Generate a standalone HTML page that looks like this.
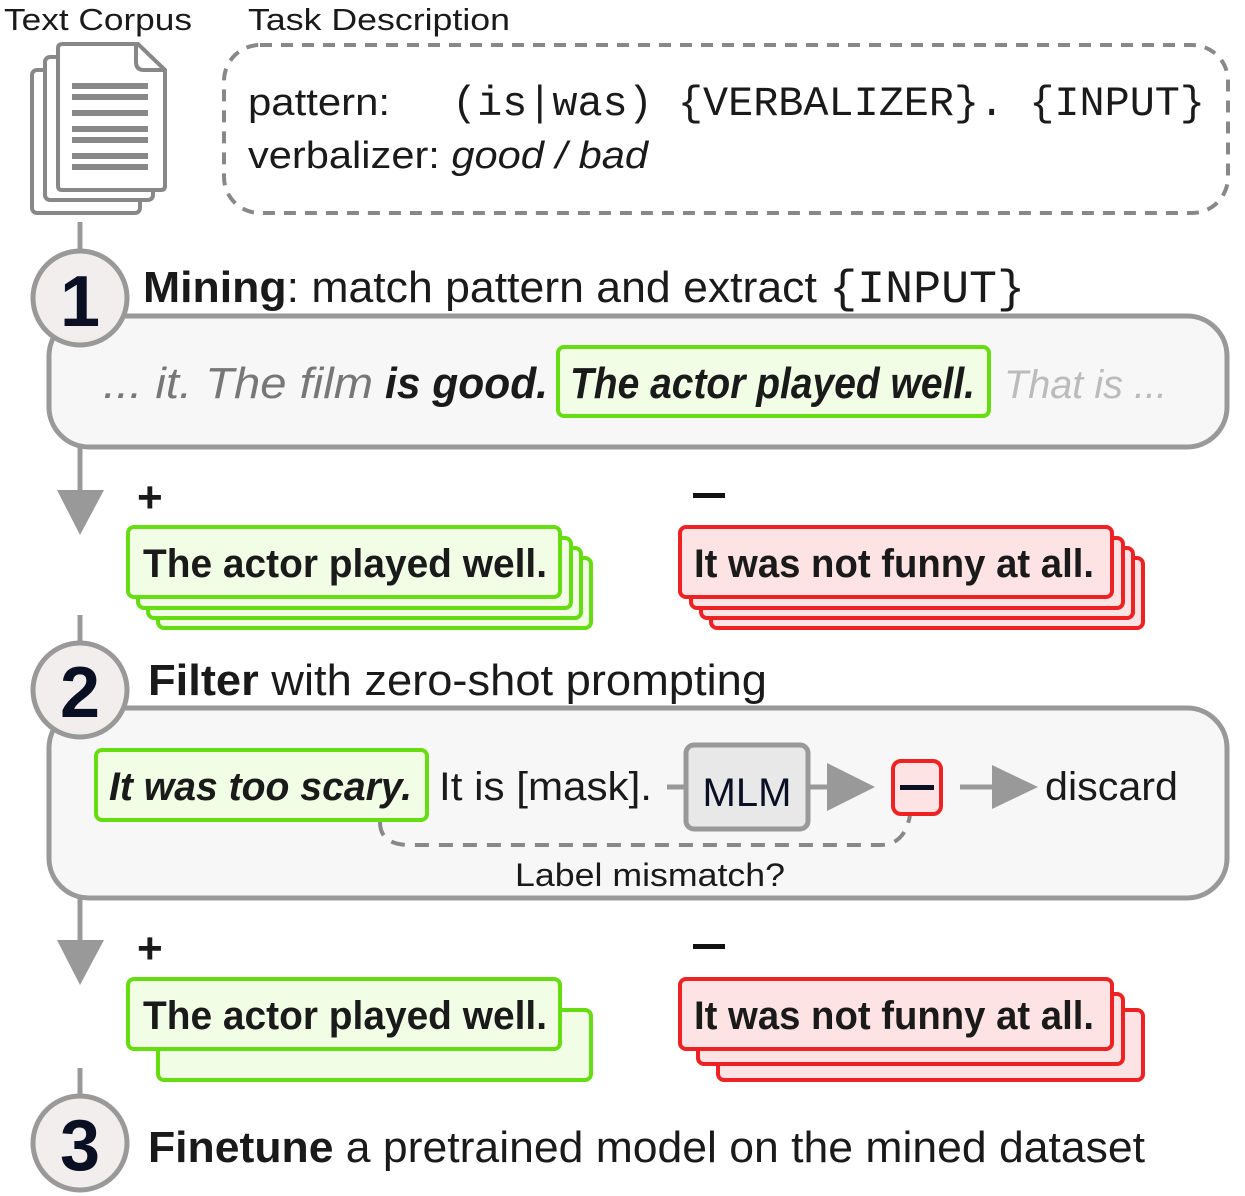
<!DOCTYPE html>
<html><head><style>body{margin:0;background:#fff}svg{display:block}text{font-family:"Liberation Sans",sans-serif;fill:#1a1a1a}.m{font-family:"Liberation Mono",monospace}</style></head><body>
<svg width="1245" height="1196" viewBox="0 0 1245 1196">
<text x="4" y="30" font-size="31" textLength="188" lengthAdjust="spacingAndGlyphs">Text Corpus</text>
<text x="248" y="30" font-size="31" textLength="262" lengthAdjust="spacingAndGlyphs">Task Description</text>
<rect x="224" y="45" width="1004" height="168" rx="36" fill="none" stroke="#888" stroke-width="4" stroke-dasharray="12,9"/>
<text x="248" y="115" font-size="38" textLength="142" lengthAdjust="spacingAndGlyphs">pattern:</text>
<text x="452" y="115" font-size="41.5" class="m" textLength="753" lengthAdjust="spacingAndGlyphs">(is|was) {VERBALIZER}. {INPUT}</text>
<text x="248" y="168" font-size="38" textLength="400" lengthAdjust="spacingAndGlyphs">verbalizer: <tspan font-style="italic">good / bad</tspan></text>
<g stroke="#888" stroke-width="4" fill="#fff">
<rect x="32" y="70" width="108" height="143" rx="5"/>
<rect x="45" y="57" width="108" height="143" rx="5"/>
<path d="M63 44 H138 L165 70 V186 Q165 190 161 190 H62 Q58 190 58 186 V48 Q58 44 63 44 Z"/>
<path d="M136 44 V62 Q136 70 144 70 H165" fill="none"/>
</g>
<g fill="#888"><rect x="72" y="83" width="76" height="6"/><rect x="72" y="94" width="76" height="6"/><rect x="72" y="110" width="76" height="6"/><rect x="72" y="126" width="76" height="6"/><rect x="72" y="137" width="76" height="6"/><rect x="72" y="153" width="76" height="6"/><rect x="72" y="164" width="76" height="6"/></g>
<g stroke="#999" stroke-width="5">
<line x1="80" y1="222" x2="80" y2="255"/><line x1="80" y1="447" x2="80" y2="495"/>
<line x1="80" y1="615" x2="80" y2="645"/><line x1="80" y1="898" x2="80" y2="945"/>
<line x1="80" y1="1068" x2="80" y2="1098"/></g>
<polygon points="57,490 104,490 80,535" fill="#999"/>
<polygon points="57,940 104,940 80,985" fill="#999"/>
<rect x="49" y="316" width="1178" height="131" rx="40" fill="#f7f7f7" stroke="#999" stroke-width="5"/>
<circle cx="80" cy="298" r="47" fill="#f2eeee" stroke="#999" stroke-width="5"/>
<text x="80" y="326" font-size="72" font-weight="bold" text-anchor="middle" style="fill:#0a0f24">1</text>
<text x="143" y="302" font-size="44" textLength="882" lengthAdjust="spacingAndGlyphs"><tspan font-weight="bold">Mining</tspan>: match pattern and extract <tspan class="m" font-size="46">{INPUT}</tspan></text>
<rect x="558" y="347" width="431" height="69" rx="6" fill="#f2fde6" stroke="#66dd11" stroke-width="4"/>
<text x="103" y="398" font-size="44" font-style="italic" style="fill:#777" textLength="270" lengthAdjust="spacingAndGlyphs">... it. The film</text>
<text x="385" y="398" font-size="44" font-style="italic" font-weight="bold" textLength="163" lengthAdjust="spacingAndGlyphs">is good.</text>
<text x="570" y="398" font-size="44" font-style="italic" textLength="405" lengthAdjust="spacingAndGlyphs" style="font-weight:600">The actor played well.</text>
<text x="1004" y="398" font-size="40" font-style="italic" style="fill:#bbb" textLength="163" lengthAdjust="spacingAndGlyphs">That is ...</text>
<text x="137" y="512" font-size="44" font-weight="bold">+</text>
<rect x="693" y="493" width="32" height="5" fill="#111"/>
<g fill="#f2fde6" stroke="#66dd11" stroke-width="4">
<rect x="158" y="558" width="433" height="70" rx="6"/><rect x="148" y="548" width="433" height="70" rx="6"/><rect x="138" y="538" width="433" height="70" rx="6"/><rect x="128" y="527" width="432" height="70" rx="6"/></g>
<text x="143" y="577" font-size="40" font-weight="bold" textLength="404" lengthAdjust="spacingAndGlyphs">The actor played well.</text>
<g fill="#fde3e3" stroke="#e22" stroke-width="4">
<rect x="711" y="558" width="432" height="70" rx="6"/><rect x="701" y="548" width="432" height="70" rx="6"/><rect x="691" y="538" width="432" height="70" rx="6"/><rect x="680" y="527" width="432" height="70" rx="6"/></g>
<text x="694" y="577" font-size="40" font-weight="bold" textLength="400" lengthAdjust="spacingAndGlyphs">It was not funny at all.</text>
<rect x="49" y="708" width="1178" height="190" rx="40" fill="#f7f7f7" stroke="#999" stroke-width="5"/>
<circle cx="80" cy="690" r="47" fill="#f2eeee" stroke="#999" stroke-width="5"/>
<text x="80" y="717" font-size="72" font-weight="bold" text-anchor="middle" style="fill:#0a0f24">2</text>
<text x="148" y="695" font-size="44" textLength="619" lengthAdjust="spacingAndGlyphs"><tspan font-weight="bold">Filter</tspan> with zero-shot prompting</text>
<path d="M380 822 Q380 845 410 845 H880 Q905 845 910 815" fill="none" stroke="#888" stroke-width="4" stroke-dasharray="14,10"/>
<rect x="96" y="750" width="331" height="70" rx="6" fill="#f2fde6" stroke="#66dd11" stroke-width="4"/>
<text x="109" y="800" font-size="40" font-weight="bold" font-style="italic" textLength="303" lengthAdjust="spacingAndGlyphs">It was too scary.</text>
<text x="439" y="800" font-size="40" textLength="213" lengthAdjust="spacingAndGlyphs">It is [mask].</text>
<line x1="667" y1="787" x2="686" y2="787" stroke="#999" stroke-width="5"/>
<line x1="809" y1="787" x2="830" y2="787" stroke="#999" stroke-width="5"/>
<polygon points="827,763 875,787 827,811" fill="#999"/>
<rect x="686" y="745" width="122" height="84" rx="8" fill="#e8e8e8" stroke="#999" stroke-width="5"/>
<text x="747" y="806" font-size="40" text-anchor="middle" style="fill:#0a0f24">MLM</text>
<rect x="893" y="761" width="48" height="53" rx="8" fill="#fde3e3" stroke="#e22" stroke-width="4"/>
<rect x="900" y="785" width="34" height="5" fill="#0a0f24"/>
<line x1="960" y1="787" x2="995" y2="787" stroke="#999" stroke-width="5"/>
<polygon points="992,765 1038,787 992,809" fill="#999"/>
<text x="1045" y="800" font-size="40" textLength="133" lengthAdjust="spacingAndGlyphs">discard</text>
<text x="515" y="886" font-size="32" textLength="270" lengthAdjust="spacingAndGlyphs">Label mismatch?</text>
<text x="137" y="963" font-size="44" font-weight="bold">+</text>
<rect x="693" y="944" width="32" height="5" fill="#111"/>
<g fill="#f2fde6" stroke="#66dd11" stroke-width="4">
<rect x="158" y="1010" width="433" height="70" rx="6"/><rect x="128" y="979" width="432" height="70" rx="6"/></g>
<text x="143" y="1029" font-size="40" font-weight="bold" textLength="404" lengthAdjust="spacingAndGlyphs">The actor played well.</text>
<g fill="#fde3e3" stroke="#e22" stroke-width="4">
<rect x="718" y="1010" width="425" height="70" rx="6"/><rect x="698" y="994" width="425" height="70" rx="6"/><rect x="680" y="979" width="432" height="70" rx="6"/></g>
<text x="694" y="1029" font-size="40" font-weight="bold" textLength="400" lengthAdjust="spacingAndGlyphs">It was not funny at all.</text>
<circle cx="80" cy="1143" r="47" fill="#f2eeee" stroke="#999" stroke-width="5"/>
<text x="80" y="1170" font-size="72" font-weight="bold" text-anchor="middle" style="fill:#0a0f24">3</text>
<text x="148" y="1162" font-size="44" textLength="997" lengthAdjust="spacingAndGlyphs"><tspan font-weight="bold">Finetune</tspan> a pretrained model on the mined dataset</text>
</svg>
</body></html>
